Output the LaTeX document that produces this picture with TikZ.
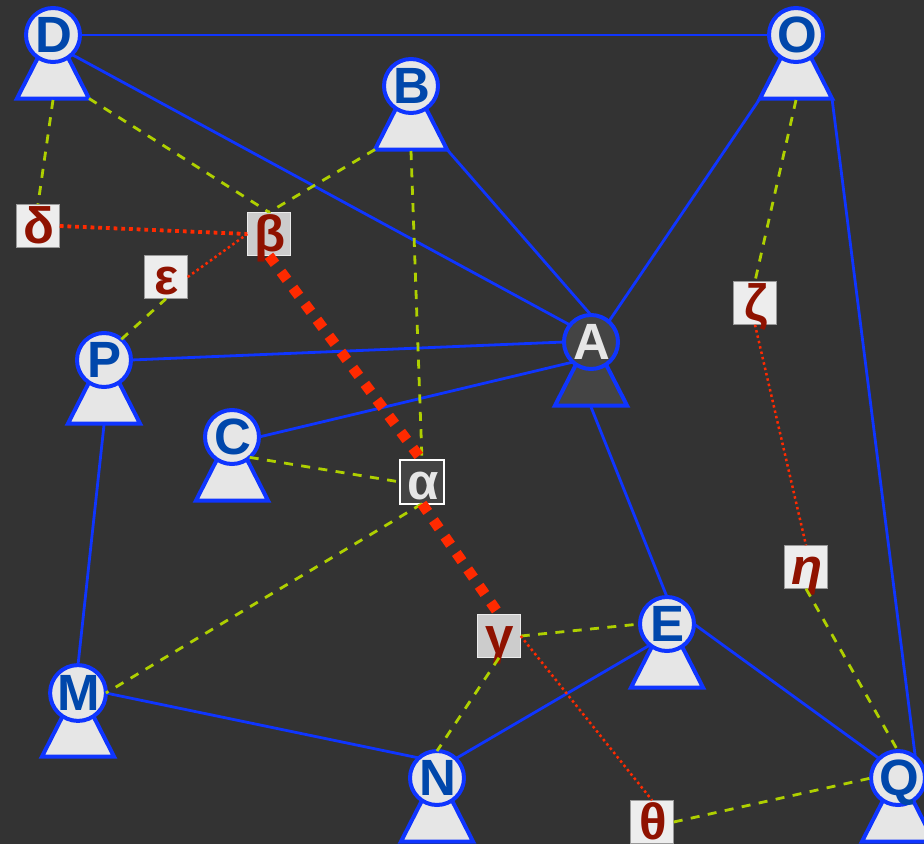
\documentclass[tikz,border=0pt]{standalone}
\usepackage{fontspec}
\setmainfont{Liberation Sans}
\definecolor{bgc}{HTML}{333333}
\definecolor{edgeblue}{HTML}{0F35FF}
\definecolor{txtblue}{HTML}{0047AB}
\definecolor{txtred}{HTML}{8F1200}
\definecolor{lime}{HTML}{AFD000}
\definecolor{hot}{HTML}{FF2A00}
\definecolor{pale}{HTML}{E6E6E6}
\definecolor{darkf}{HTML}{444444}
\tikzset{
  lbl/.style={font=\fontsize{51}{51}\selectfont\bfseries,text height=34pt,text depth=0pt,inner sep=0pt,outer sep=0pt},
  head/.style={lbl,circle,draw=edgeblue,line width=4pt,minimum size=54pt,fill=#1},
  body/.style={draw=edgeblue,line width=4pt,fill=#1,miter limit=10},
  ubox/.style={lbl,rectangle,minimum size=43.5pt,line width=1.2pt,draw=#1},
  normalbox/.style={ubox=black!40,fill=black!7,text=txtred},
  midbox/.style={ubox=black!8,fill=black!20,text=txtred},
  darkbox/.style={ubox=white,fill=darkf,text=pale,line width=2pt},
  solidedge/.style={draw=edgeblue,line width=2.8pt},
  dashedge/.style={draw=lime,line width=2.8pt,dash pattern=on 9pt off 8.4pt},
  dotfine/.style={draw=hot,line width=2.5pt,dash pattern=on 2.5pt off 3pt},
  dotmid/.style={draw=hot,line width=3.8pt,dash pattern=on 3.8pt off 3.9pt},
  dotthick/.style={draw=hot,line width=10.5pt,dash pattern=on 10pt off 10pt},
}
\newcommand{\actor}[6]{%
  % #1 name, #2 x, #3 y, #4 fill, #5 text colour, #6 label
  \coordinate (#1-bl) at (#2-36,#3+63.5);
  \coordinate (#1-br) at (#2+36,#3+63.5);
  \coordinate (#1-b) at (#2,#3+65);
  \path[body=#4] (#2,#3-7) -- (#1-br) -- (#1-bl) -- cycle;
  \node[head=#4,text=#5] (#1) at (#2,#3) {\hspace*{2pt}#6};
}
\begin{document}
\begin{tikzpicture}[x=1pt,y=-1pt]
\fill[bgc] (0,0) rectangle (924,844);
\useasboundingbox (0,0) rectangle (924,844);
\actor{D}{53}{35}{pale}{txtblue}{D}
\actor{B}{411}{86}{pale}{txtblue}{B}
\actor{O}{796}{35}{pale}{txtblue}{O}
\actor{A}{591}{342}{darkf}{pale}{A}
\actor{P}{104}{360}{pale}{txtblue}{P}
\actor{C}{232}{437}{pale}{txtblue}{C}
\actor{E}{667}{624}{pale}{txtblue}{E}
\actor{M}{78}{693}{pale}{txtblue}{M}
\actor{N}{437}{778}{pale}{txtblue}{N}
\actor{Q}{898}{778}{pale}{txtblue}{Q}
\node[normalbox] (delta) at (38,226) {\hspace*{2pt}δ};
\node[midbox] (beta) at (269,234) {\hspace*{2pt}β};
\node[normalbox] (eps) at (166,277) {\hspace*{2pt}ε};
\node[normalbox] (zeta) at (755,303) {\hspace*{2pt}ζ};
\node[darkbox] (alpha) at (422,482) {\hspace*{2pt}α};
\node[normalbox] (eta) at (806,567) {\hspace*{2pt}\itshape η};
\node[midbox] (gamma) at (499,636) {\hspace*{2pt}γ};
\node[normalbox] (theta) at (652,822) {\hspace*{2pt}θ};
% blue associations
\draw[solidedge] (D.0) -- (O.180);
\draw[solidedge] (D.-46) -- (A.141);
\draw[solidedge] (B-br) -- (A.90);
\draw[solidedge] (O-bl) -- (A.49);
\draw[solidedge] (O-br) -- (Q.50);
\draw[solidedge] (P.0) -- (A.180);
\draw[solidedge] (C.0) -- (A.228);
\draw[solidedge] (A-b) -- (E.90);
\draw[solidedge] (P-b) -- (M.90);
\draw[solidedge] (M.0) -- (N.132);
\draw[solidedge] (N.46) -- (E.231);
\draw[solidedge] (E.0) -- (Q.134);
% dashed
\draw[dashedge] (D-b) -- (delta.north);
\draw[dashedge] (D-br) -- (beta.north);
\draw[dashedge] (B-bl) -- (beta.north);
\draw[dashedge] (B-b) -- (alpha.north);
\draw[dashedge] (P.50) -- (eps.south);
\draw[dashedge] (C.-49) -- (alpha.west);
\draw[dashedge] (alpha.south) -- (M.0);
\draw[dashedge] (O-b) -- (zeta.north);
\draw[dashedge] (eta.south) -- (Q.90);
\draw[dashedge] (gamma.east) -- (E.180);
\draw[dashedge] (gamma.south) -- (N.90);
\draw[dashedge] (theta.east) -- (Q.180);
% dotted
\draw[dotmid] (delta.east) -- (beta.west);
\draw[dotfine] (eps.east) -- (beta.west);
\draw[dotfine] (zeta.south) -- (eta.north);
\draw[dotfine] (gamma.east) -- (theta.north);
\draw[dotthick] (beta.south) -- (alpha.north);
\draw[dotthick] (alpha.south) -- (gamma.north);
\end{tikzpicture}
\end{document}
